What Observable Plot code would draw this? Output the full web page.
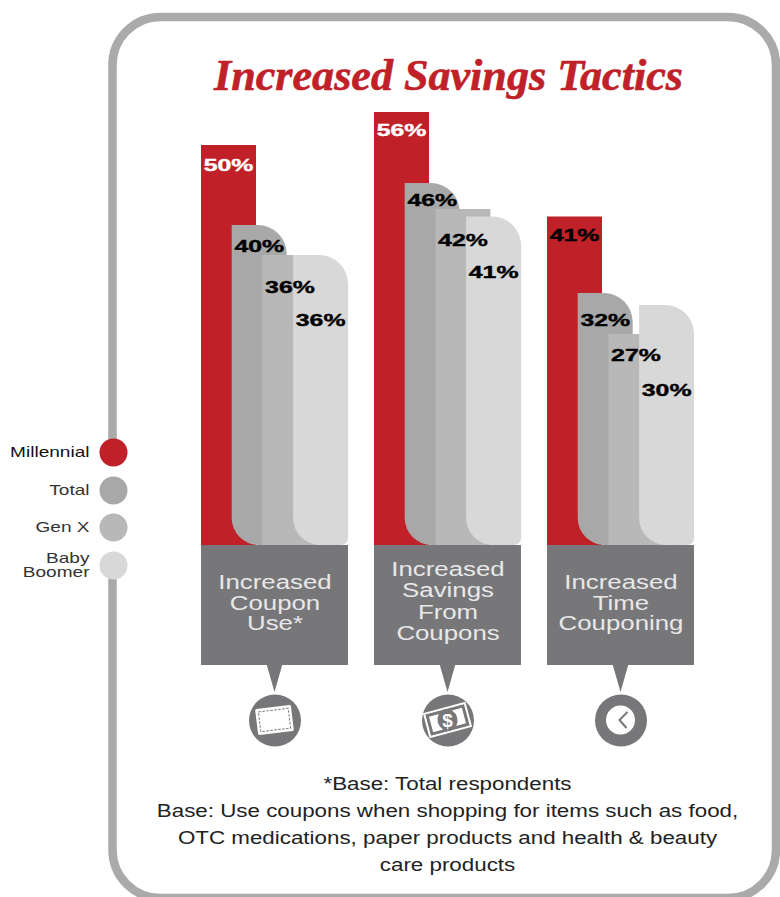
<!DOCTYPE html>
<html><head><meta charset="utf-8">
<style>html,body{margin:0;padding:0;background:#fff}svg{display:block}</style>
<script src="https://cdn.jsdelivr.net/npm/d3@7"></script>
<script src="https://cdn.jsdelivr.net/npm/@observablehq/plot@0.6"></script>
</head><body><div id="chart"></div>
<script>
const titleText = "Increased Savings Tactics";
const seriesNames = ["Millennial", "Total", "Gen X", "Baby Boomer"];
const categoryLines = [["Increased","Coupon","Use*"],["Increased","Savings","From","Coupons"],["Increased","Time","Couponing"]];
const couponUse = [50, 40, 36, 36];
const savingsFromCoupons = [56, 46, 42, 41];
const timeCouponing = [41, 32, 27, 30];
const footnotes = ["*Base: Total respondents","Base: Use coupons when shopping for items such as food,","OTC medications, paper products and health & beauty","care products"];

const seriesColors = ["#c02027","#a8a8a8","#b8b8b8","#d8d8d8"];
const W = 780, H = 897;
const barStep = 30.7, groupStep = 173, barW = 55, panelW = 147, origin = 201;
const rows = [couponUse, savingsFromCoupons, timeCouponing].flatMap((vals,g)=>vals.map((value,s)=>({g,s,value,series:seriesNames[s],x1:g*groupStep+s*barStep,x2:g*groupStep+s*barStep+barW})));
// drop of each value label below its bar top, in pixels
const labelDrop = [[20,21,32,65],[18,17,31,56],[19,27,21,85]];
const panelBase = -15;

function roundedBar(index,{},values){
  const g=d3.create("svg:g");
  for(const i of index){
    const x1=values.x1[i],x2=values.x2[i],t=values.y2[i],b=values.y1[i],s=rows[i].s;
    const tr=(s===1||s===3)?29:0, bl=tr?27:0, br=s===3?7:0;
    g.append("path").attr("fill",values.fill[i]).attr("d",
      `M${x1},${t}H${x2-tr}`+(tr?`A${tr},${tr} 0 0 1 ${x2},${t+tr}`:"")+`V${b-br}`+(br?`A${br},${br} 0 0 1 ${x2-br},${b}`:"")+`H${x1+bl}`+(bl?`A${bl},${bl} 0 0 1 ${x1},${b-bl}`:"")+"Z");
  }
  return g.node();
}
function frameMark(){
  return d3.create("svg:rect").attr("x",112.5).attr("y",17).attr("width",663.5).attr("height",881).attr("rx",48).attr("fill","none").attr("stroke","#aaaaaa").attr("stroke-width",8.5).node();
}
function legendGap(){
  return d3.create("svg:rect").attr("x",100).attr("y",466).attr("width",26).attr("height",88).attr("fill","#fff").node();
}
function pointers(index,{x}){
  const g=d3.create("svg:g").attr("fill","#77777a");
  categoryLines.forEach((_,i)=>{const c=x(i*groupStep+panelW/2); g.append("path").attr("d",`M${c-8},664H${c+8}L${c},692Z`);});
  return g.node();
}
function icons(index,{x}){
  const g=d3.create("svg:g");
  const cy=720;
  // coupon
  let c=g.append("g").attr("transform",`translate(${x(panelW/2)},${cy}) rotate(-7)`);
  c.append("rect").attr("x",-18).attr("y",-13).attr("width",36).attr("height",26).attr("rx",1.5).attr("fill","#fff");
  c.append("rect").attr("x",-15).attr("y",-10).attr("width",30).attr("height",20).attr("fill","none").attr("stroke","#77777a").attr("stroke-width",1).attr("stroke-dasharray","2.5 1.5");
  // bill
  const bx=x(groupStep+panelW/2);
  c=g.append("g").attr("transform",`translate(${bx},${cy}) rotate(-15)`);
  c.append("rect").attr("x",-22).attr("y",-13).attr("width",44).attr("height",26).attr("fill","#fff");
  c.append("rect").attr("x",-20).attr("y",-11).attr("width",40).attr("height",22).attr("fill","#77777a");
  c.append("rect").attr("x",-17).attr("y",-8).attr("width",34).attr("height",16).attr("fill","#fff");
  c.append("ellipse").attr("rx",10).attr("ry",11).attr("fill","#77777a");
  g.append("text").attr("x",bx).attr("y",cy+6.5).attr("text-anchor","middle").attr("font-family","Liberation Sans").attr("font-weight",700).attr("font-size",19).attr("fill","#fff").text("$");
  // clock
  const cx=x(2*groupStep+panelW/2);
  g.append("circle").attr("cx",cx).attr("cy",cy).attr("r",14.5).attr("fill","#fff");
  g.append("path").attr("d",`M${cx+7},${cy-8}L${cx-1},${cy}L${cx+6},${cy+8}`).attr("fill","none").attr("stroke","#77777a").attr("stroke-width",2);
  return g.node();
}

const lineMarks = [];
categoryLines.forEach((lines,g)=>{
  const first = lines.length===4 ? 575.5 : 588.5, step = lines.length===4 ? 21.3 : 20.7;
  lines.forEach((t,k)=>lineMarks.push(Plot.text([t],{text:d=>d,x:()=>g*groupStep+panelW/2,frameAnchor:"top",lineAnchor:"bottom",textAnchor:"middle",dy:first+k*step,fontSize:20,fontFamily:"Liberation Sans",fill:"#e8e8e8",className:"wide-cat"})));
});
footnotes.forEach((t,k)=>lineMarks.push(Plot.text([t],{text:d=>d,frameAnchor:"top-left",lineAnchor:"bottom",textAnchor:"middle",dx:447,dy:789+k*27,fontSize:17.5,fontFamily:"Liberation Sans",fill:"#222",className:"wide-foot"})));
const legendY=[452,490,527,565];
seriesNames.forEach((n,i)=>{
  const parts=n==="Baby Boomer"?["Baby","Boomer"]:[n];
  parts.forEach((p,k)=>{
    const base=parts.length===2?[562.5,576][k]:legendY[i]+4.5;
    lineMarks.push(Plot.text([p],{text:d=>d,frameAnchor:"top-left",lineAnchor:"bottom",textAnchor:"end",dx:89,dy:base,fontSize:15,fontFamily:"Liberation Sans",fill:i===0?"#111":"#333",className:"wide-leg"}));
  });
  lineMarks.push(Plot.dot([n],{fill:d=>d,frameAnchor:"top-left",dx:113,dy:legendY[i],r:14}));
});

const chart = Plot.plot({
  width:W,height:H,margin:0,
  x:{type:"linear",domain:[-origin,W-origin],range:[0,W],axis:null},
  y:{type:"linear",domain:[panelBase,0,27,30,32,36,40,41,42,46,50,56],range:[665,545,334,305,293,255,225,216.5,209,183,145,112],axis:null},
  color:{domain:seriesNames,range:seriesColors},
  style:{background:"#fff"},
  marks:[
    frameMark,legendGap,
    Plot.text([titleText],{text:d=>d,frameAnchor:"top-left",lineAnchor:"bottom",textAnchor:"middle",dx:448,dy:89,fontSize:45,fontFamily:"Liberation Serif",fontWeight:700,fontStyle:"italic",fill:"#c02027",stroke:"#c02027",strokeWidth:0.6,className:"wide-title"}),
    Plot.rect(rows,{x1:"x1",x2:"x2",y1:0,y2:"value",fill:"series",render:roundedBar}),
    Plot.rect(categoryLines,{x1:(d,i)=>i*groupStep,x2:(d,i)=>i*groupStep+panelW,y1:panelBase,y2:0,fill:"#77777a"}),
    ...rows.map(r=>Plot.text([r],{x:d=>d.x1+27,y:"value",text:d=>d.value+"%",dy:labelDrop[r.g][r.s],lineAnchor:"middle",textAnchor:"middle",fontSize:17,fontWeight:700,fontFamily:"Liberation Sans",fill:r.s===0&&r.g<2?"#fff":"#000",stroke:r.s===0&&r.g<2?"#fff":"#000",strokeWidth:0.4,className:"wide-val"})),
    pointers,
    Plot.dot(categoryLines,{x:(d,i)=>i*groupStep+panelW/2,frameAnchor:"top",dy:720,r:26,fill:"#77777a"}),
    icons,
    ...lineMarks
  ]
});
document.getElementById("chart").append(chart);
const stretch={"wide-cat":1.29,"wide-foot":1.277,"wide-leg":1.27,"wide-title":0.98,"wide-val":1.46};
for(const [c,k] of Object.entries(stretch)){
  chart.querySelectorAll(`.${c} text, text.${c}`).forEach(t=>{
    t.setAttribute("textLength",t.getComputedTextLength()*k);
    t.setAttribute("lengthAdjust","spacingAndGlyphs");
  });
}
</script></body></html>
